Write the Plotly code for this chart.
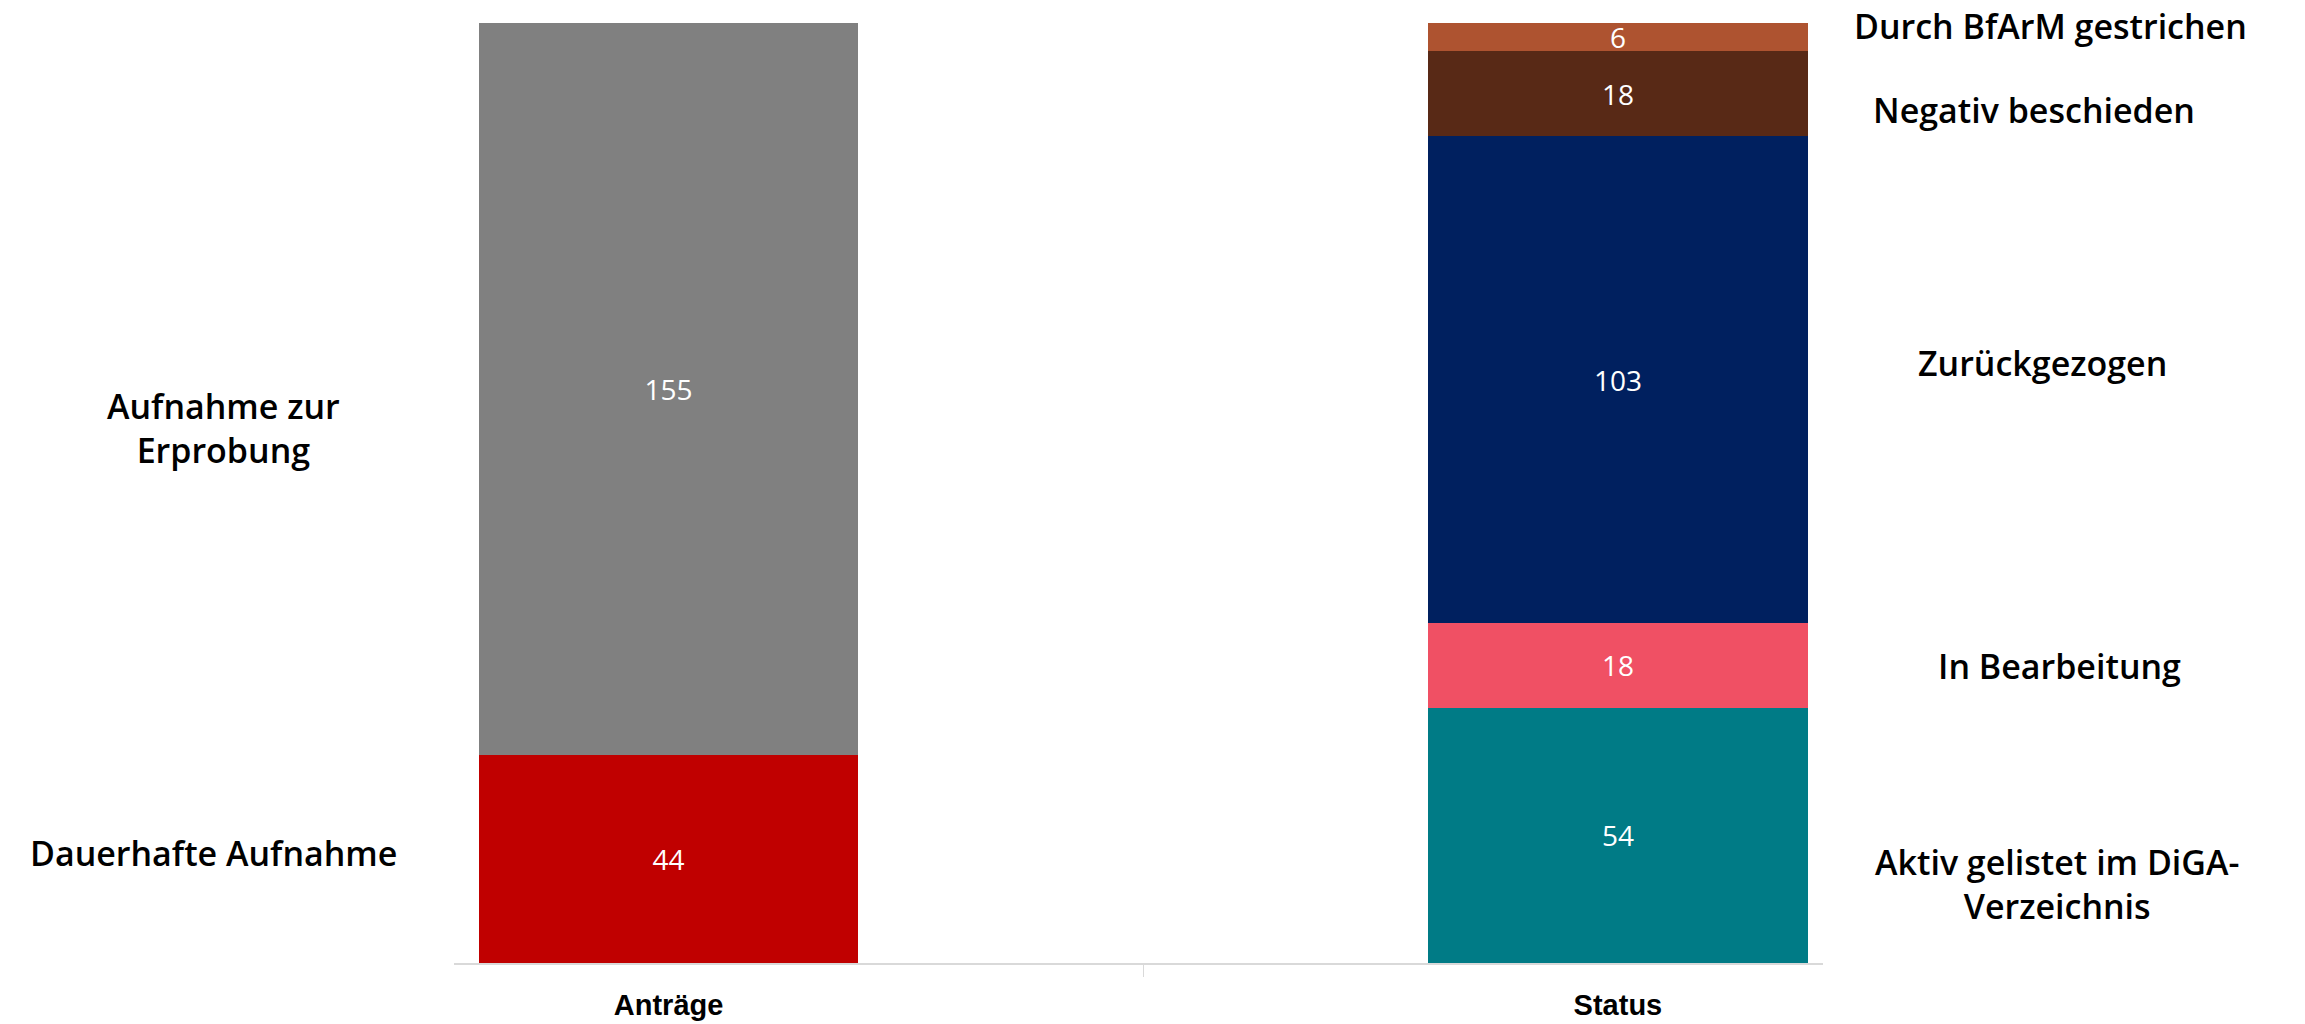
import plotly.graph_objects as go

# Categories on the x axis
categories = ["Anträge", "Status"]

# Stacked segments of the "Anträge" bar (bottom to top)
antraege_names = ["Dauerhafte Aufnahme", "Aufnahme zur Erprobung"]
antraege_values = [44, 155]
antraege_colors = ["#C00000", "#808080"]

# Stacked segments of the "Status" bar (bottom to top)
status_names = ["Aktiv gelistet im DiGA-Verzeichnis", "In Bearbeitung", "Zurückgezogen",
                "Negativ beschieden", "Durch BfArM gestrichen"]
status_values = [54, 18, 103, 18, 6]
status_colors = ["#007B86", "#F05064", "#00205F", "#582916", "#AE5330"]

# Side label texts and their placement (paper coordinates)
left_label_texts = ["Dauerhafte Aufnahme", "Aufnahme zur<br>Erprobung"]
left_label_pos = [(-0.176, 0.117), (-0.1687, 0.569)]
right_label_texts = ["Aktiv gelistet im DiGA-<br>Verzeichnis", "In Bearbeitung", "Zurückgezogen",
                     "Negativ beschieden", "Durch BfArM gestrichen"]
right_label_pos = [(1.1709, 0.084), (1.1731, 0.316), (1.1607, 0.638), (1.1541, 0.907), (1.1665, 0.997)]

LABEL_FONT = dict(family="Open Sans", size=34, color="#000000", weight=600)
VALUE_FONT = dict(family="Open Sans", size=28, color="#FFFFFF")

fig = go.Figure()

for name, val, col in zip(antraege_names, antraege_values, antraege_colors):
    fig.add_trace(go.Bar(
        x=[categories[0]], y=[val], name=name, marker=dict(color=col, line=dict(width=0)),
        text=[str(val)], textposition="inside", insidetextanchor="middle", textangle=0,
        constraintext="none", textfont=VALUE_FONT, width=0.4, hoverinfo="skip"))

for name, val, col in zip(status_names, status_values, status_colors):
    fig.add_trace(go.Bar(
        x=[categories[1]], y=[val], name=name, marker=dict(color=col, line=dict(width=0)),
        text=[str(val)], textposition="inside", insidetextanchor="middle", textangle=0,
        constraintext="none", textfont=VALUE_FONT, width=0.4, hoverinfo="skip"))

annotations = []
for txt, (ax, ay) in zip(left_label_texts + right_label_texts, left_label_pos + right_label_pos):
    annotations.append(dict(x=ax, y=ay, xref="paper", yref="paper", text=txt, showarrow=False,
                            font=LABEL_FONT, align="center", xanchor="center", yanchor="middle"))

fig.update_layout(
    barmode="stack",
    width=2305, height=1024,
    margin=dict(l=454, r=482, t=23, b=61, autoexpand=False),
    paper_bgcolor="#FFFFFF", plot_bgcolor="#FFFFFF",
    showlegend=False,
    annotations=annotations,
    xaxis=dict(
        type="category", categoryorder="array", categoryarray=categories,
        range=[-0.226, 1.216], tickson="boundaries", automargin=False,
        showline=True, linecolor="#D9D9D9", linewidth=2,
        ticks="outside", ticklen=12, tickcolor="#D9D9D9", tickwidth=1,
        showgrid=False, zeroline=False,
        tickfont=dict(family="Liberation Sans Narrow, Liberation Sans", size=29, color="#000000"),
        ticklabelstandoff=15,
        tickvals=categories, ticktext=["<b>Anträge</b>", "<b>Status</b>"],
    ),
    yaxis=dict(range=[0, 199], visible=False, showgrid=False, zeroline=False, automargin=False),
)

fig.write_html("out.html")
